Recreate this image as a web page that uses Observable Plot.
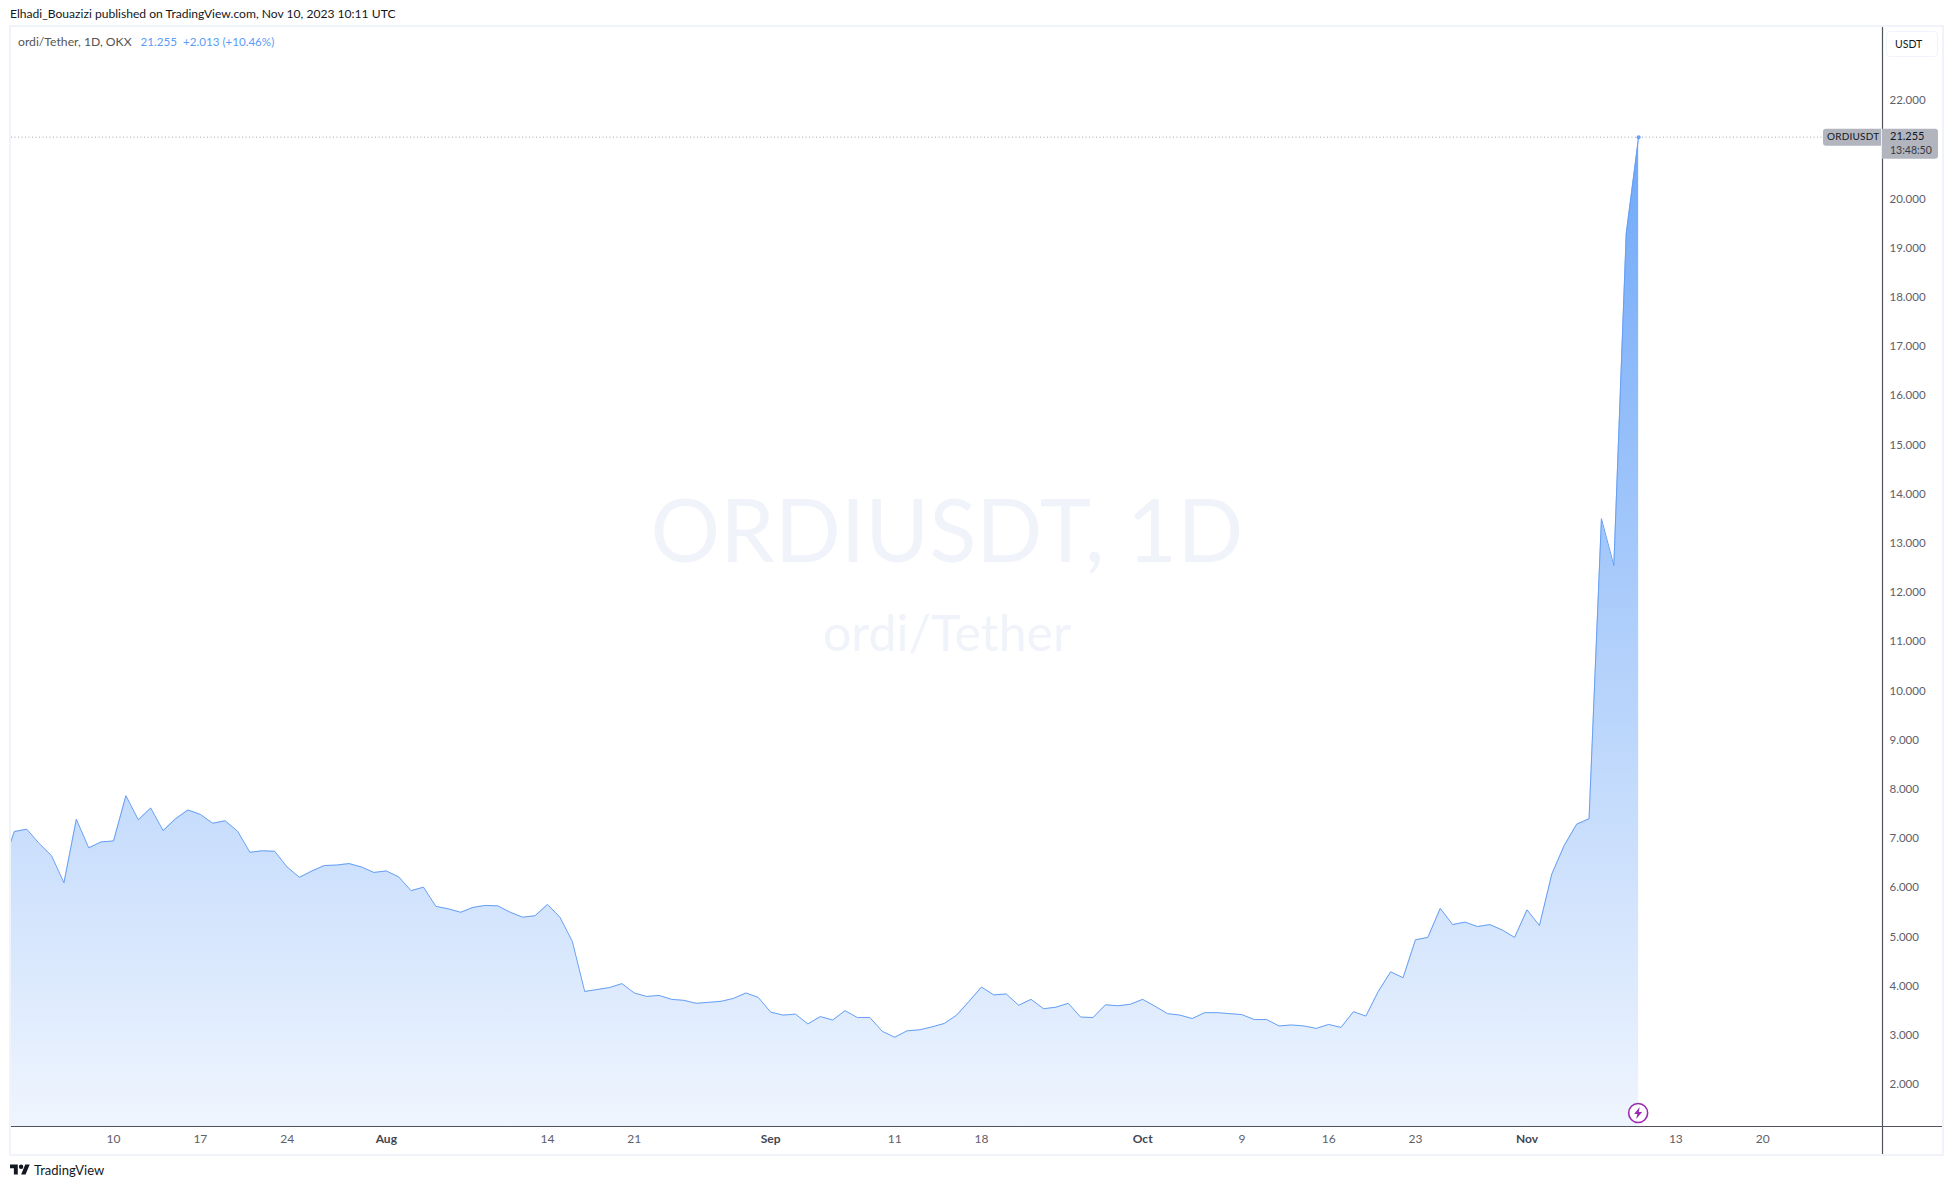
<!doctype html>
<html><head><meta charset="utf-8">
<script src="https://cdn.jsdelivr.net/npm/d3@7"></script>
<script src="https://cdn.jsdelivr.net/npm/@observablehq/plot@0.6"></script>
<style>
html,body{margin:0;padding:0;background:#fff;width:1952px;height:1189px;overflow:hidden;font-family:Lato,"Open Sans",sans-serif;color:#131722}
#pub{position:absolute;left:10px;top:6px;font-size:12.1px;line-height:16px;color:#131722;white-space:pre}
#wrap{position:absolute;left:9px;top:25px;width:1935px;height:1131px;box-sizing:border-box;border:2px solid #f0f3fa}
#wrap svg{display:block}
#legend{position:absolute;left:18px;top:34px;font-size:12.2px;line-height:16px;color:#555;white-space:pre}
#legend b{font-weight:400;color:#5b9cf6;font-size:11.6px}
#unit{position:absolute;left:1886px;top:31px;width:52px;height:26px;box-sizing:border-box;border:1px solid #f0f3fa;border-radius:4px;font-size:10.5px;line-height:24px;padding-left:8px;color:#131722}
#foot{position:absolute;left:10px;top:1161px;height:18px;display:flex;align-items:center;font-size:13px;color:#131722}
#foot svg{width:20px;height:16px;margin-right:4px}
</style></head>
<body>
<div id="pub">Elhadi_Bouazizi published on TradingView.com, Nov 10, 2023 10:11 UTC</div>
<div id="wrap"></div>
<div id="legend">ordi/Tether, 1D, OKX <b>  21.255</b> <b> +2.013 (+10.46%)</b></div>
<div id="unit">USDT</div>
<div id="foot"><svg viewBox="0 0 36 28"><path fill="#131722" d="M14 22H7V11H0V4h14v18zM28 22h-8l7.5-18h8L28 22z"/><circle fill="#131722" cx="20" cy="8" r="4"/></svg><span>TradingView</span></div>
<script>
const firstDay = "2023-07-01";
const julyCloses = [6.41,7.14,7.19,6.90,6.65,6.10,7.39,6.81,6.93,6.95,7.87,7.38,7.62,7.16,7.40,7.58,7.49,7.31,7.36,7.15,6.72,6.75,6.74,6.42,6.21,6.34,6.45,6.46,6.49,6.42,6.31];
const augustCloses = [6.34,6.22,5.94,6.01,5.62,5.57,5.50,5.60,5.64,5.63,5.50,5.40,5.43,5.66,5.40,4.91,3.89,3.93,3.97,4.05,3.86,3.79,3.81,3.73,3.71,3.65,3.67,3.69,3.75,3.86,3.77];
const septemberCloses = [3.47,3.41,3.43,3.23,3.38,3.31,3.50,3.36,3.36,3.08,2.96,3.09,3.11,3.17,3.24,3.41,3.69,3.98,3.82,3.84,3.61,3.73,3.54,3.57,3.65,3.37,3.36,3.62,3.60,3.63];
const octoberCloses = [3.73,3.59,3.44,3.41,3.34,3.46,3.46,3.44,3.42,3.32,3.32,3.19,3.21,3.19,3.14,3.22,3.16,3.48,3.39,3.89,4.29,4.17,4.94,4.99,5.58,5.25,5.30,5.21,5.25,5.14,4.99];
const novemberCloses = [5.55,5.23,6.28,6.86,7.29,7.40,13.50,12.55,19.29,21.255];
const closes = [...julyCloses,...augustCloses,...septemberCloses,...octoberCloses,...novemberCloses];

const dayTicks = ["2023-07-10","2023-07-17","2023-07-24","2023-08-14","2023-08-21","2023-09-11","2023-09-18","2023-10-09","2023-10-16","2023-10-23","2023-11-13","2023-11-20"];
const monthTicks = ["2023-08-01","2023-09-01","2023-10-01","2023-11-01"];
const priceTicks = [2,3,4,5,6,7,8,9,10,11,12,13,14,15,16,17,18,19,20,21,22];
const xDomain = ["2023-07-01T18:30Z","2023-11-29T16:00Z"].map(d=>new Date(d));
const yDomain = [1.146,23.484];
const lastPrice = 21.255, countdown = "13:48:50", symbol = "ORDIUSDT";

const start = new Date(firstDay);
const rows = closes.map((v,i)=>({date:d3.utcDay.offset(start,i),value:v}));
const last = rows[rows.length-1];
const axisInk = "#50535e", tickInk = "#5d606b", lineInk = "#669ff5", badge = "#b2b5be";
const fnt = "Lato,'Open Sans',sans-serif";

function defs(){
  const d = d3.create("svg:defs");
  const g = d.append("linearGradient").attr("id","areaFade").attr("x1",0).attr("x2",0).attr("y1",0).attr("y2",1);
  g.append("stop").attr("offset",0).attr("stop-color","#6fa8f8");
  g.append("stop").attr("offset",1).attr("stop-color","#eff5fe");
  return d.node();
}
function priceTag(_, {x,y}){
  const g = d3.create("svg:g").attr("font-family",fnt).attr("text-anchor","start");
  const py = y(lastPrice), r = x.range()[1];
  g.append("path").attr("fill",badge)
    .attr("d",`M${r-1},${py-8}H${r-56}a3,3 0 0 0 -3,3v11a3,3 0 0 0 3,3H${r-1}z`);
  g.append("text").attr("x",r-55).attr("y",py+3.5).attr("font-size",10).attr("letter-spacing",0.2).attr("fill","#131722").text(symbol);
  g.append("path").attr("fill",badge)
    .attr("d",`M${r},${py-8}H${r+53}a3,3 0 0 1 3,3V${py+19}a3,3 0 0 1 -3,3H${r}z`);
  g.append("text").attr("x",r+8).attr("y",py+3).attr("font-size",11).attr("fill","#131722").text("21.255");
  g.append("text").attr("x",r+8).attr("y",py+17.5).attr("font-size",10.5).attr("fill","#363a45").text(countdown);
  return g.node();
}
function bolt(_, {x}, __, dims){
  const cx = x(last.date), cy = dims.height-dims.marginBottom-13;
  const g = d3.create("svg:g").attr("transform",`translate(${cx},${cy})`);
  g.append("circle").attr("r",9.5).attr("fill","#fff").attr("stroke","#9c27b0").attr("stroke-width",1.6);
  g.append("path").attr("fill","#9c27b0").attr("d","M1.5,-6 L-4,1 H-0.8 L-2,6 L4,-1 H0.6 Z");
  return g.node();
}

const plot = Plot.plot({
  width:1931, height:1127,
  marginLeft:0, marginRight:60, marginTop:0, marginBottom:28,
  style:{background:"#fff",fontFamily:fnt,fontSize:"12px"},
  x:{type:"utc",domain:xDomain},
  y:{domain:yDomain},
  marks:[
    defs,
    Plot.text(["ORDIUSDT, 1D"],{frameAnchor:"top",dy:473,fontSize:87,fill:"#f0f3fa",fontFamily:fnt}),
    Plot.text(["ordi/Tether"],{frameAnchor:"top",dy:588,fontSize:50,fill:"#f0f3fa",fontFamily:fnt}),
    Plot.ruleY([lastPrice],{stroke:"#a3a6af",strokeDasharray:"1 2.5",strokeWidth:1}),
    Plot.areaY(rows,{x:"date",y1:yDomain[0],y2:"value",fill:"url(#areaFade)",clip:true}),
    Plot.lineY(rows,{x:"date",y:"value",stroke:lineInk,strokeWidth:1,clip:true}),
    Plot.dot([last],{x:"date",y:"value",r:2,fill:lineInk}),
    Plot.ruleY([yDomain[0]],{stroke:axisInk,strokeWidth:1.2,insetRight:-60}),
    Plot.ruleX([xDomain[1]],{stroke:axisInk,strokeWidth:1.2,insetBottom:-28}),
    Plot.axisY(priceTicks,{anchor:"right",tickSize:0,tickPadding:7,textAnchor:"start",tickFormat:d3.format(".3f"),fill:tickInk,fontSize:11.5,label:null}),
    Plot.axisX(dayTicks.map(d=>new Date(d)),{anchor:"bottom",tickSize:0,tickPadding:8,tickFormat:d3.utcFormat("%-d"),fill:tickInk,fontSize:12,label:null}),
    Plot.axisX(monthTicks.map(d=>new Date(d)),{anchor:"bottom",tickSize:0,tickPadding:8,tickFormat:d3.utcFormat("%b"),fill:"#434651",fontWeight:700,fontSize:12,label:null}),
    priceTag,
    bolt
  ]
});
document.getElementById("wrap").append(plot);
</script>
</body></html>
